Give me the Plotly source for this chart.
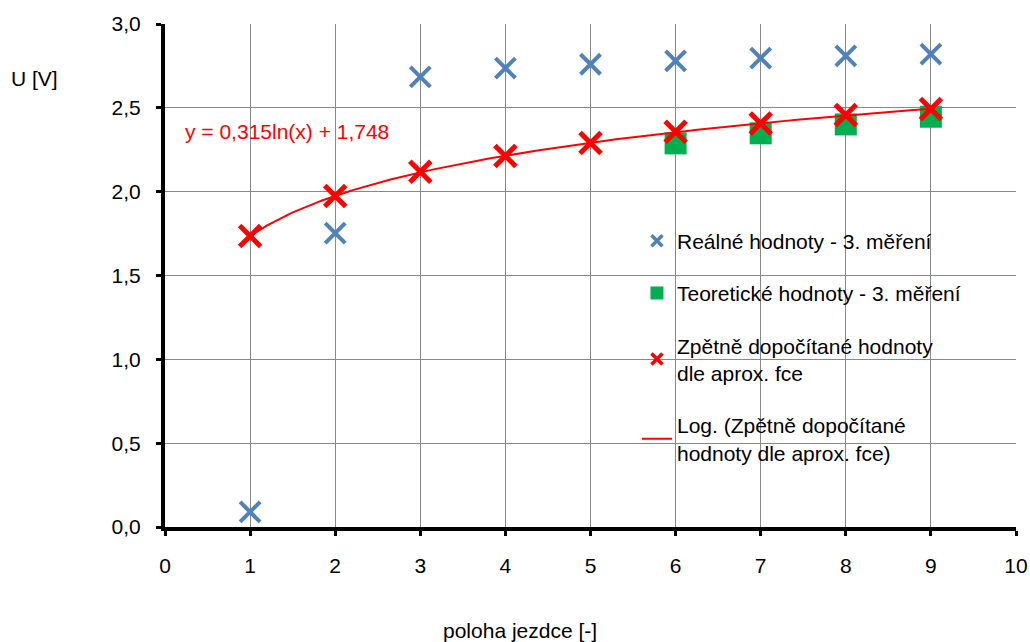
import numpy as np
import plotly.graph_objects as go

x_vals = [1, 2, 3, 4, 5, 6, 7, 8, 9]
real_vals = [0.09, 1.753, 2.685, 2.737, 2.76, 2.78, 2.797, 2.81, 2.82]
theor_x = [6, 7, 8, 9]
theor_vals = [2.288, 2.348, 2.401, 2.447]
calc_vals = [1.735, 1.974, 2.119, 2.213, 2.29, 2.357, 2.407, 2.457, 2.493]
x_ticks = list(range(0, 11))
y_ticks = [0.0, 0.5, 1.0, 1.5, 2.0, 2.5, 3.0]

names = [
    "Reálné hodnoty - 3. měření",
    "Teoretické hodnoty - 3. měření",
    "Zpětně dopočítané hodnoty<br>dle aprox. fce",
    "Log. (Zpětně dopočítané<br>hodnoty dle aprox. fce)",
]
eq_text = "y = 0,315ln(x) + 1,748"

BLUE = "#4F81BD"
GREEN = "#00B050"
RED = "#FF0000"

# log fit of the recomputed points
b, a = np.polyfit(np.log(x_vals), calc_vals, 1)
xf = np.linspace(1, 9, 200)
yf = b * np.log(xf) + a

FONT = "Liberation Sans, Arial, sans-serif"
FS = 21

fig = go.Figure()
# data traces (no legend)
fig.add_trace(go.Scatter(
    x=x_vals, y=real_vals, mode="markers", showlegend=False,
    marker=dict(symbol="x-thin", size=20, color=BLUE,
                line=dict(width=4, color=BLUE)),
))
fig.add_trace(go.Scatter(
    x=theor_x, y=theor_vals, mode="markers", showlegend=False,
    marker=dict(symbol="square", size=22, color=GREEN, line=dict(width=0)),
))
fig.add_trace(go.Scatter(
    x=xf, y=yf, mode="lines", showlegend=False,
    line=dict(color=RED, width=2),
))
fig.add_trace(go.Scatter(
    x=x_vals, y=calc_vals, mode="markers", showlegend=False,
    marker=dict(symbol="x-thin", size=21, color=RED,
                line=dict(width=5, color=RED)),
))
# legend-only entries
fig.add_trace(go.Scatter(
    x=[None], y=[None], mode="markers", name=names[0], legendgroup="a", legendrank=1,
    marker=dict(symbol="x-thin", size=11, color=BLUE, line=dict(width=3.5, color=BLUE)),
))
fig.add_trace(go.Scatter(
    x=[None], y=[None], mode="markers", name=names[1], legendgroup="b", legendrank=2,
    marker=dict(symbol="square", size=13, color=GREEN, line=dict(width=0)),
))
fig.add_trace(go.Scatter(
    x=[None], y=[None], mode="markers", name=names[2], legendgroup="c", legendrank=3,
    marker=dict(symbol="x-thin", size=11, color=RED, line=dict(width=3.5, color=RED)),
))
fig.add_trace(go.Scatter(
    x=[None], y=[None], mode="lines", name=names[3], legendgroup="d", legendrank=4,
    line=dict(color=RED, width=2),
))

fig.update_layout(
    width=1030, height=642,
    margin=dict(l=165, r=14, t=24, b=115, autoexpand=False),
    paper_bgcolor="white", plot_bgcolor="white",
    separators=", ",
    font=dict(family=FONT, size=FS, color="black"),
    showlegend=True,
    legend=dict(
        x=0.5546, y=0.609, xanchor="left", yanchor="top",
        bgcolor="rgba(255,255,255,0)", borderwidth=0,
        font=dict(family=FONT, size=FS, color="black"),
        traceorder="grouped", tracegroupgap=22,
    ),
    xaxis=dict(
        range=[0, 10], tickvals=x_ticks, ticks="outside", ticklen=5,
        tickwidth=3, tickcolor="black", ticklabelstandoff=12,
        showline=True, linecolor="black", linewidth=4,
        showgrid=True, gridcolor="#888888", gridwidth=1,
        zeroline=False, automargin=False,
        tickfont=dict(family=FONT, size=FS),
    ),
    yaxis=dict(
        range=[0, 3.0], tickvals=y_ticks, tickformat=".1f",
        ticks="outside", ticklen=5, tickwidth=3, tickcolor="black",
        ticklabelstandoff=11,
        showline=True, linecolor="black", linewidth=4,
        showgrid=True, gridcolor="#888888", gridwidth=1,
        zeroline=False, automargin=False,
        tickfont=dict(family=FONT, size=FS),
    ),
    shapes=[
        dict(type="rect", xref="paper", yref="paper",
             x0=0.5182, x1=0.9424, y0=0.129, y1=0.6064,
             fillcolor="white", line=dict(width=0), layer="between"),
    ],
    annotations=[
        dict(text="U [V]", x=-0.1528, y=0.8926, xref="paper", yref="paper",
             xanchor="center", yanchor="middle",
             showarrow=False, font=dict(size=FS)),
        dict(text="poloha jezdce [-]", xref="paper", yref="paper",
             x=0.4172, y=-0.2048, xanchor="center", yanchor="middle",
             showarrow=False, font=dict(size=FS)),
        dict(text=eq_text, xref="x", yref="y", x=0.217, y=2.361,
             xanchor="left", yanchor="middle", showarrow=False,
             font=dict(size=FS, color=RED)),
    ],
)

fig.write_html(
    "out.html",
    config={"displayModeBar": False},
    post_script="document.body.style.margin='0';document.body.style.overflow='hidden';",
)
